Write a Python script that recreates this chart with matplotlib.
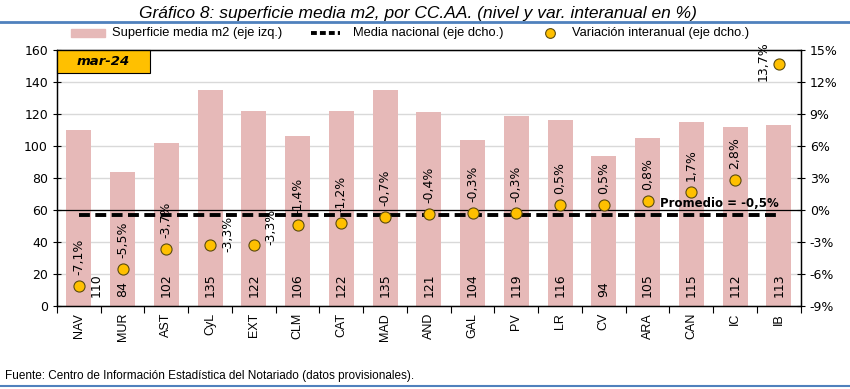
"""Gráfico 8: superficie media m2 por CC.AA. (nivel y variación interanual)."""
import matplotlib
matplotlib.use("Agg")
import matplotlib.pyplot as plt
from matplotlib.patches import Rectangle
from matplotlib.lines import Line2D

regions = ["NAV", "MUR", "AST", "CyL", "EXT", "CLM", "CAT", "MAD", "AND",
           "GAL", "PV", "LR", "CV", "ARA", "CAN", "IC", "IB"]
surface = [110, 84, 102, 135, 122, 106, 122, 135, 121, 104, 119, 116, 94,
           105, 115, 112, 113]
yoy = [-7.1, -5.5, -3.7, -3.3, -3.3, -1.4, -1.2, -0.7, -0.4, -0.3, -0.3,
       0.5, 0.5, 0.8, 1.7, 2.8, 13.7]
national_avg = -0.5

BAR = "#E6B9B8"
DOT = "#FFC000"
BLUE = "#4F81BD"
NARROW = ["Liberation Sans Narrow", "Liberation Sans", "DejaVu Sans"]
W, H = 850, 389

fig = plt.figure(figsize=(8.5, 3.89), dpi=100)
ax = fig.add_axes([0.067, 0.2134, 0.875, 0.658])
ax2 = ax.twinx()

x = list(range(len(regions)))
ax.bar(x, surface, width=0.57, color=BAR, zorder=2)
ax.set_ylim(0, 160)
ax.set_yticks(range(0, 161, 20))
ax.set_xlim(-0.5, len(regions) - 0.5)
ax.grid(axis="y", color="#D9D9D9", lw=1, zorder=0)
ax.set_axisbelow(True)

# bar value labels at the bottom of each bar
for i, v in enumerate(surface):
    dx = 0.4 if i == 0 else 0
    ax.text(i + dx, 5.5, f"{v}", rotation=90, ha="center", va="bottom",
            fontsize=9, family="DejaVu Sans", zorder=3)

ax2.set_ylim(-9, 15)
ax2.set_yticks(range(-9, 16, 3))
ax2.set_yticklabels([f"{t}%" for t in range(-9, 16, 3)])
ax2.axhline(0, color="black", lw=0.9, zorder=1)
ax2.plot([0, len(regions) - 1], [national_avg, national_avg], color="black",
         lw=2.8, dashes=(2.8, 1.4), zorder=3)
ax2.plot(x, yoy, "o", ms=8, mfc=DOT, mec="#5a4a10", mew=0.8, ls="none",
         zorder=4)

# labels of the yoy points; a few sit beside the dot (offsets in points)
side = {3: (13, 8), 4: (12, 13), 16: (-11.5, 2)}
for i, v in enumerate(yoy):
    lab = f"{v:.1f}%".replace(".", ",")
    if i in side:
        ax2.annotate(lab, (i, v), xytext=side[i], textcoords="offset points",
                     rotation=90, ha="center", va="center", fontsize=9,
                     family="DejaVu Sans", zorder=5)
    else:
        ax2.annotate(lab, (i, v), xytext=(0, 8), textcoords="offset points",
                     rotation=90, ha="center", va="bottom", fontsize=9,
                     family="DejaVu Sans", zorder=5)

ax2.annotate("Promedio = -0,5%", (len(regions) - 1, national_avg),
             xytext=(0, 4), textcoords="offset points", ha="right",
             va="bottom", fontsize=8.5, fontweight="bold", family="DejaVu Sans")

# ticks and spines
ax.set_xticks(x)
ax.set_xticklabels(regions, rotation=90, fontsize=9, family="Liberation Sans")
ax.set_xticks([i + 0.5 for i in x[:-1]] + [-0.5, len(regions) - 0.5], minor=True)
ax.tick_params(axis="x", which="major", length=0, pad=5)
ax.tick_params(axis="x", which="minor", length=5, direction="out", width=0.8)
ax.tick_params(axis="y", direction="inout", length=6, labelsize=9, width=0.8)
ax2.tick_params(axis="y", direction="inout", length=6, labelsize=9, width=0.8)
for a in (ax, ax2):
    for s in a.spines.values():
        s.set_color("black")
        s.set_linewidth(0.9)
    for lbl in a.get_yticklabels():
        lbl.set_family("DejaVu Sans")

# "mar-24" box
ax.add_patch(Rectangle((0.0, 0.91), 0.125, 0.09, transform=ax.transAxes,
                       facecolor=DOT, edgecolor="black", lw=0.8, zorder=6,
                       clip_on=False))
ax.text(0.0625, 0.955, "mar-24", transform=ax.transAxes, ha="center",
        va="center", fontsize=9.5, fontweight="bold", style="italic",
        family="DejaVu Sans", zorder=7)

# title, rules and source
fig.text(0.492, 0.965, "Gráfico 8: superficie media m2, por CC.AA. (nivel y var. interanual en %)",
         ha="center", va="center", fontsize=12.5, style="italic", family=NARROW)
fig.add_artist(Line2D([0, 1], [0.943, 0.943], color=BLUE, lw=2))
fig.add_artist(Line2D([0, 1], [0.008, 0.008], color=BLUE, lw=1.5))
fig.text(0.006, 0.033, "Fuente: Centro de Información Estadística del Notariado (datos provisionales).",
         ha="left", va="center", fontsize=8.5, family=NARROW)

# legend row, placed by hand like the spreadsheet legend
ly = 1 - 33 / H
fig.add_artist(Rectangle((71 / W, ly - 4 / H), 34 / W, 8 / H,
                         transform=fig.transFigure, color=BAR))
fig.text(112 / W, ly, "Superficie media m2 (eje izq.)", ha="left",
         va="center", fontsize=9.3, family=NARROW)
fig.add_artist(Line2D([311 / W, 340 / W], [ly, ly], color="black", lw=2.8,
                      dashes=(1.5, 0.8)))
fig.text(353 / W, ly, "Media nacional (eje dcho.)", ha="left", va="center",
         fontsize=9.3, family=NARROW)
fig.add_artist(Line2D([550 / W], [ly], marker="o", ls="none", ms=7, mfc=DOT,
                      mec="#5a4a10", mew=0.8))
fig.text(572 / W, ly, "Variación interanual (eje dcho.)", ha="left",
         va="center", fontsize=9.3, family=NARROW)

fig.savefig("out.png", dpi=100)
